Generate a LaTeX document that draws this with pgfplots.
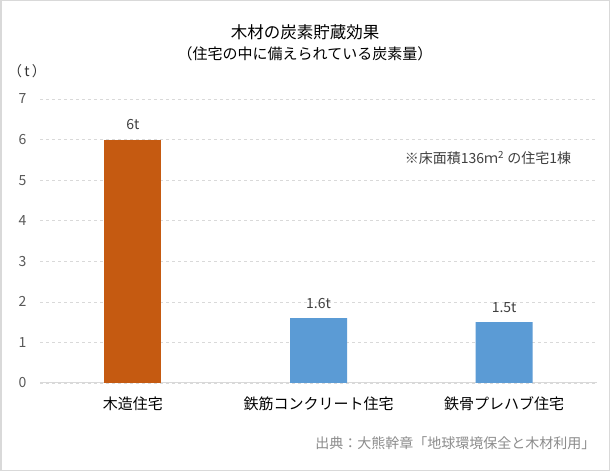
\documentclass[border=0pt]{standalone}
\usepackage{fontspec}
\setmainfont{Noto Sans CJK JP}
\usepackage{pgfplots}
\pgfplotsset{compat=1.18}
\definecolor{woodc}{HTML}{C55A11}
\definecolor{steelc}{HTML}{5B9BD5}
\definecolor{gridc}{HTML}{D9D9D9}
\definecolor{tickc}{HTML}{595959}
\begin{document}
\begin{tikzpicture}[x=1pt,y=1pt]
\useasboundingbox (0,0) rectangle (610,471);
\fill[white] (0,0) rectangle (610,471);
\begin{axis}[
  at={(40pt,88pt)}, anchor=south west,
  scale only axis, width=557pt, height=284pt,
  xmin=-0.5, xmax=2.5, ymin=0, ymax=7,
  ytick={0,1,...,7},
  xtick={0,1,2},
  xticklabels={木造住宅,鉄筋コンクリート住宅,鉄骨プレハブ住宅},
  ymajorgrids, grid style={dashed,gridc,line width=0.6pt},
  axis x line*=bottom, axis y line*=left,
  x axis line style={draw=gridc,line width=1pt,-},
  y axis line style={draw=none},
  major tick length=0pt,
  /pgf/number format/assume math mode=true,
  yticklabel style={font=\fontsize{14}{16}\selectfont, text=tickc, xshift=-10pt},
  xticklabel style={font=\fontsize{15}{17}\selectfont, text=black, yshift=-10pt},
  ybar, bar width=57pt,
  nodes near coords={\pgfmathprintnumber{\pgfplotspointmeta}t},
  every node near coord/.append style={font=\fontsize{14}{16}\selectfont, text=black!75, yshift=6pt},
]
\addplot[fill=woodc, draw=none, bar shift=0pt] coordinates {(0,6)};
\addplot[fill=steelc, draw=none, bar shift=0pt] coordinates {(1,1.6) (2,1.5)};
\end{axis}
\node[font=\fontsize{16.5}{18}\selectfont] at (305,439) {木材の炭素貯蔵効果};
\node[font=\fontsize{15}{17}\selectfont] at (305,417) {（住宅の中に備えられている炭素量）};
\node[font=\fontsize{14}{16}\selectfont, text=black!80] at (27,400) {（\,t\,）};
\node[font=\fontsize{14}{16}\selectfont, text=black!75] at (488,313) {※床面積136ｍ\textsuperscript{2} の住宅1棟};
\node[font=\fontsize{14}{16}\selectfont, text=black!45, anchor=east] at (599,28) {出典：大熊幹章「地球環境保全と木材利用」};
\draw[gridc, line width=1.5pt] (0.75,0.75) rectangle (609.25,470.25);
\end{tikzpicture}
\end{document}
